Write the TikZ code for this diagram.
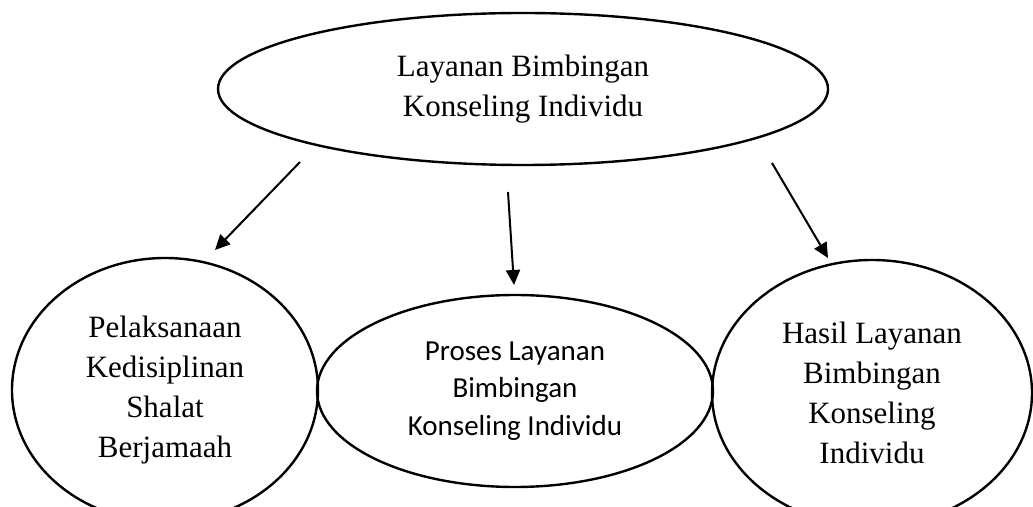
\documentclass[tikz,border=0pt]{standalone}
\usepackage{fontspec}
\setmainfont{Liberation Serif}
\newfontfamily\calibrifont{Carlito}
\usepackage{tikz}
\usetikzlibrary{shapes, arrows.meta, positioning}
\tikzstyle{oval} = [ellipse, draw = black, line width = 2.4pt, inner sep = 0,
  align = center, font = \fontsize{31}{40}\selectfont]
\tikzstyle{link} = [
  -{Triangle[length = 15pt, width = 14pt]},
  line width = 2pt
]

\begin{document}
\begin{tikzpicture}[node distance = 0, x = 1pt, y = 1pt]
      \useasboundingbox (0, 0) rectangle (1033, 506);
      % top
      \node [oval, minimum width = 610, minimum height = 152] (layanan) at (523, 417)
        {Layanan Bimbingan\\Konseling Individu};
      % bottom row
      \node [oval, below of = layanan, xshift = -358, yshift = -301,
        minimum width = 306, minimum height = 264] (pelaksanaan)
        {Pelaksanaan\\Kedisiplinan\\Shalat\\Berjamaah};
      \node [oval, below of = layanan, xshift = -8, yshift = -302,
        minimum width = 396, minimum height = 192,
        font = \calibrifont\fontsize{29}{37.5}\selectfont] (proses)
        {Proses Layanan\\Bimbingan\\Konseling Individu};
      \node [oval, below of = layanan, xshift = 349, yshift = -304,
        minimum width = 320, minimum height = 266] (hasil)
        {Hasil Layanan\\Bimbingan\\Konseling\\Individu};

      \coordinate (from-1) at (300, 344);
      \coordinate (to-1) at (215, 256);
      \coordinate (from-2) at (508, 314);
      \coordinate (to-2) at (514, 221);
      \coordinate (from-3) at (772, 343);
      \coordinate (to-3) at (828, 248);

      \draw [link] (from-1) -- (to-1);
      \draw [link] (from-2) -- (to-2);
      \draw [link] (from-3) -- (to-3);
    \end{tikzpicture}
\end{document}
